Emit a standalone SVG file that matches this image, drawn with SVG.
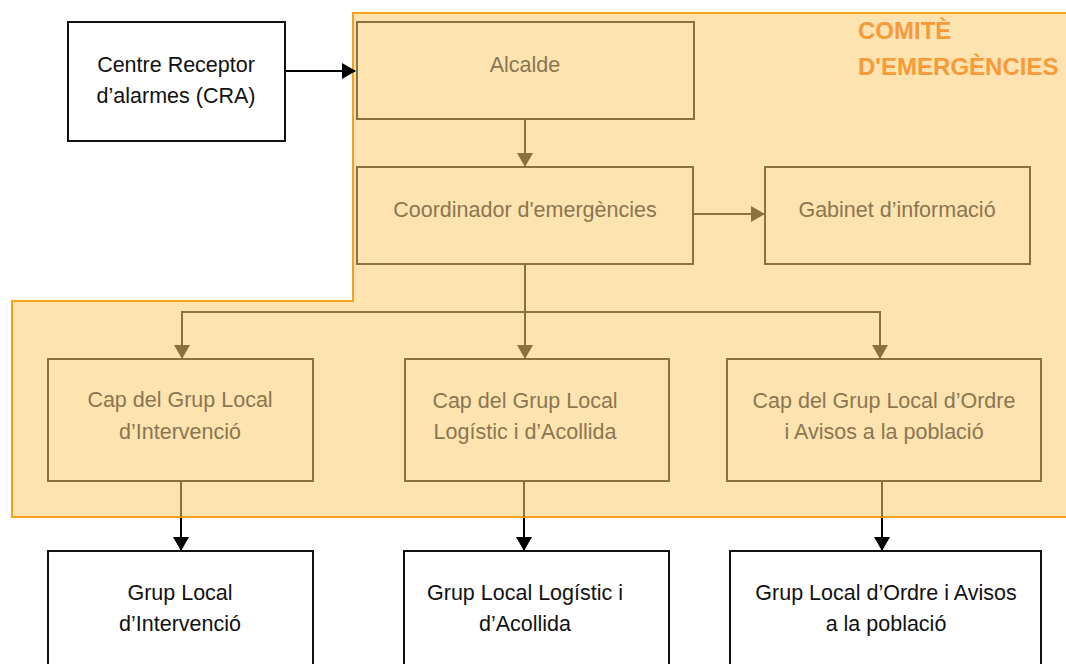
<svg xmlns="http://www.w3.org/2000/svg" width="1066" height="664" viewBox="0 0 1066 664">
<style>
.t{font-family:"Liberation Sans",Arial,sans-serif;font-size:21.5px;text-anchor:middle}
.in{fill:#8b7650}
.out{fill:#111}
.bx{fill:#fde3b0;stroke:#8b7040;stroke-width:2}
.wb{fill:#fff;stroke:#111;stroke-width:2}
.bc{stroke:#8b7040;stroke-width:2;fill:none}
.kc{stroke:#000;stroke-width:2;fill:none}
.ttl{font-family:"Liberation Sans",Arial,sans-serif;font-size:24px;font-weight:bold;fill:#f79a3a}
</style>
<defs>
<marker id="ab2" markerWidth="14" markerHeight="16" refX="13" refY="8" orient="auto" markerUnits="userSpaceOnUse"><path d="M0,0 L14,8 L0,16 z" fill="#8b7040"/></marker>
<marker id="ak2" markerWidth="14" markerHeight="16" refX="13" refY="8" orient="auto" markerUnits="userSpaceOnUse"><path d="M0,0 L14,8 L0,16 z" fill="#000"/></marker>
</defs>
<rect width="1066" height="664" fill="#fff"/>
<g id="comite">
<path d="M353,13 H1067 V517 H12 V301 H353 Z" fill="#fde3b0" stroke="#f7a01c" stroke-width="2"/>
<text class="ttl" x="858" y="39">COMITÈ</text>
<text class="ttl" x="858" y="75">D'EMERGÈNCIES</text>
</g>
<g id="connectors">
<path class="kc" d="M285,71 H355" marker-end="url(#ak2)"/>
<path class="bc" d="M525,119 V166" marker-end="url(#ab2)"/>
<path class="bc" d="M693,214 H764" marker-end="url(#ab2)"/>
<path class="bc" d="M525,264 V312 M182,312 H880"/>
<path class="bc" d="M182,311 V358" marker-end="url(#ab2)"/>
<path class="bc" d="M525,312 V358" marker-end="url(#ab2)"/>
<path class="bc" d="M880,311 V358" marker-end="url(#ab2)"/>
<path class="bc" d="M181,481 V517 M524,481 V517 M882,481 V517"/>
<path class="kc" d="M181,518 V550" marker-end="url(#ak2)"/>
<path class="kc" d="M524,518 V550" marker-end="url(#ak2)"/>
<path class="kc" d="M882,518 V550" marker-end="url(#ak2)"/>
</g>
<g id="cra"><rect class="wb" x="68" y="22" width="217" height="119"/>
<text class="t out" x="176" y="72">Centre Receptor</text><text class="t out" x="176" y="103">d’alarmes (CRA)</text></g>
<g id="alcalde"><rect class="bx" x="357" y="22" width="337" height="97"/>
<text class="t in" x="525" y="72">Alcalde</text></g>
<g id="coordinador"><rect class="bx" x="357" y="167" width="336" height="97"/>
<text class="t in" x="525" y="217">Coordinador d'emergències</text></g>
<g id="gabinet"><rect class="bx" x="765" y="167" width="265" height="97"/>
<text class="t in" x="897" y="217">Gabinet d’informació</text></g>
<g id="cap-intervencio"><rect class="bx" x="48" y="359" width="265" height="122"/>
<text class="t in" x="180" y="407">Cap del Grup Local</text><text class="t in" x="180" y="439">d’Intervenció</text></g>
<g id="cap-logistic"><rect class="bx" x="405" y="359" width="264" height="122"/>
<text class="t in" x="525" y="408">Cap del Grup Local</text><text class="t in" x="525" y="439">Logístic i d’Acollida</text></g>
<g id="cap-ordre"><rect class="bx" x="727" y="359" width="314" height="122"/>
<text class="t in" x="884" y="408">Cap del Grup Local d’Ordre</text><text class="t in" x="884" y="439">i Avisos a la població</text></g>
<g id="grup-intervencio"><rect class="wb" x="48" y="551" width="265" height="120"/>
<text class="t out" x="180" y="600">Grup Local</text><text class="t out" x="180" y="631">d’Intervenció</text></g>
<g id="grup-logistic"><rect class="wb" x="404" y="551" width="265" height="120"/>
<text class="t out" x="525" y="600">Grup Local Logístic i</text><text class="t out" x="525" y="631">d’Acollida</text></g>
<g id="grup-ordre"><rect class="wb" x="730" y="551" width="311" height="120"/>
<text class="t out" x="886" y="600">Grup Local d’Ordre i Avisos</text><text class="t out" x="886" y="631">a la població</text></g>
</svg>
